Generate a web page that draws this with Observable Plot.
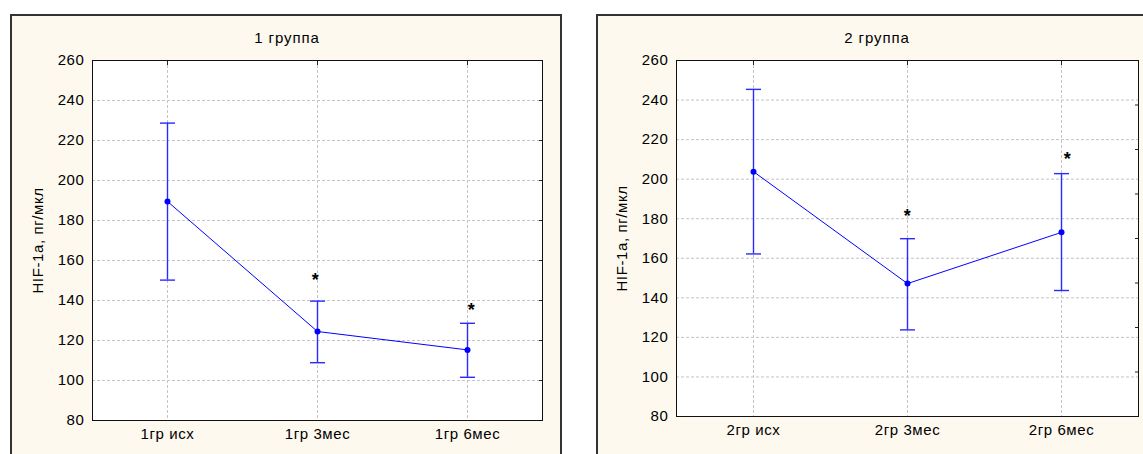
<!DOCTYPE html>
<html><head><meta charset="utf-8">
<script src="https://cdn.jsdelivr.net/npm/d3@7"></script>
<script src="https://cdn.jsdelivr.net/npm/@observablehq/plot@0.6"></script>
<style>
html,body{margin:0;padding:0;background:#fff;}
#page{position:relative;width:1143px;height:454px;overflow:hidden;font-family:"Liberation Sans",Arial,sans-serif;}
.panel{position:absolute;top:14px;height:470px;background:#fdf9ee;border:2px solid #333;box-sizing:border-box;}
.title{position:absolute;font-size:15px;letter-spacing:0.9px;color:#000;transform:translate(-50%,-50%);white-space:nowrap;}
.chart{position:absolute;top:14px;}
</style></head><body>
<div id="page">
  <div class="panel" style="left:10px;width:552px;"></div>
  <div class="panel" style="left:596px;width:620px;"></div>
  <div class="title" style="left:287px;top:37px;">1 группа</div>
  <div class="title" style="left:877px;top:37px;">2 группа</div>
  <div class="chart" id="c1" style="left:10px;"></div>
  <div class="chart" id="c2" style="left:596px;"></div>
</div>
<script>
// ---- data ----
const cats1 = ["1гр исх", "1гр 3мес", "1гр 6мес"];
const mean1 = [189.5, 124.5, 115.3];
const low1  = [150.2, 108.9, 101.6];
const high1 = [228.7, 139.7, 128.6];
const star1 = [null, 152.4, 137.8];

const cats2 = ["2гр исх", "2гр 3мес", "2гр 6мес"];
const mean2 = [203.8, 147.2, 173.1];
const low2  = [162.2, 123.8, 143.7];
const high2 = [245.4, 169.9, 202.8];
const star2 = [null, 183.9, 212.7];

const yTicks = [80, 100, 120, 140, 160, 180, 200, 220, 240, 260];
const rightTicks2 = [102.5, 125, 147.5, 170, 192.5, 215, 237.5];
const yLabel = "HIF-1a, пг/мкл";

const BLUE = "#0000ff";
const BAR = "#2a2aff";
const GRID = "#c4c4c4";

// horizontal cap symbol for error bars
const capSymbol = {draw(ctx) { ctx.moveTo(-7.5, 0); ctx.lineTo(7.5, 0); }};

function panel({cats, mean, low, high, star, rightTicks, width, ml, mr, mb, starDx}) {
  const rows = cats.map((c, i) => ({cat: c, mean: mean[i], low: low[i], high: high[i], star: star[i], dx: starDx[i]}));
  const starMarks = rows.filter(r => r.star != null).map(r =>
    Plot.text([r], {x: "cat", y: "star", text: () => "*", dx: r.dx, dy: 5, fontSize: 18, fontWeight: "bold", fill: "#000"}));
  return Plot.plot({
    width, height: 440,
    marginLeft: ml, marginRight: mr, marginTop: 46, marginBottom: mb,
    x: {type: "point", domain: cats, padding: 0.5},
    y: {domain: [80, 260]},
    style: {background: "transparent", fontFamily: "'Liberation Sans', Arial, sans-serif", fontSize: "15px", letterSpacing: "0.6px", color: "#000", overflow: "visible"},
    marks: [
      Plot.frame({fill: "white"}),
      Plot.gridY(yTicks, {stroke: GRID, strokeOpacity: 1, strokeDasharray: "3,2"}),
      Plot.gridX(cats, {stroke: GRID, strokeOpacity: 1, strokeDasharray: "3,2"}),
      Plot.axisY(yTicks, {anchor: "left", tickSize: 0, tickPadding: 8, fontSize: 15, label: null}),
      Plot.axisX(cats, {anchor: "bottom", tickSize: 0, tickPadding: 8, fontSize: 15, label: null}),
      Plot.axisY(rightTicks, {anchor: "right", tickSize: 4, dx: -4, tickFormat: () => "", label: null, stroke: "#222"}),
      Plot.axisX(cats, {anchor: "top", tickSize: 4, dy: 4, tickFormat: () => "", label: null, stroke: "#222"}),
      Plot.text([yLabel], {frameAnchor: "left", rotate: -90, dx: -54, fontSize: 15, textAnchor: "middle", lineAnchor: "middle", fill: "#000", style: "letter-spacing:1.2px"}),
      Plot.ruleX(rows, {x: "cat", y1: "low", y2: "high", stroke: BAR, strokeWidth: 1.4}),
      Plot.dot(rows, {x: "cat", y: "low", symbol: capSymbol, stroke: BAR, fill: "none", strokeWidth: 1.4}),
      Plot.dot(rows, {x: "cat", y: "high", symbol: capSymbol, stroke: BAR, fill: "none", strokeWidth: 1.4}),
      Plot.line(rows, {x: "cat", y: "mean", stroke: BLUE, strokeWidth: 1}),
      Plot.dot(rows, {x: "cat", y: "mean", r: 3, fill: BLUE}),
      ...starMarks,
      Plot.frame({stroke: "#111"})
    ]
  });
}

document.getElementById("c1").append(panel({
  cats: cats1, mean: mean1, low: low1, high: high1, star: star1,
  rightTicks: yTicks, width: 552, ml: 82, mr: 20, mb: 34, starDx: [0, -2, 4]
}));
document.getElementById("c2").append(panel({
  cats: cats2, mean: mean2, low: low2, high: high2, star: star2,
  rightTicks: rightTicks2, width: 547, ml: 80, mr: 5, mb: 38, starDx: [0, 0, 6]
}));
</script>
</body></html>
